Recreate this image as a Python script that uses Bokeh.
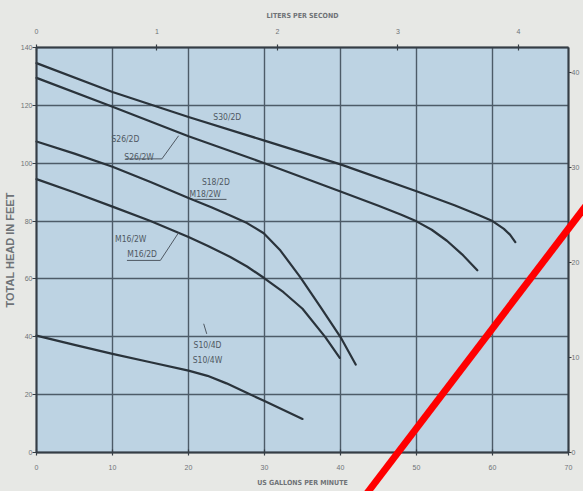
from bokeh.plotting import figure
from bokeh.models import LinearAxis, Range1d, FixedTicker, Grid, BoxAnnotation
from bokeh.embed import file_html
from bokeh.resources import INLINE
from bokeh.core.properties import value

# ---------------- data ----------------
GPM_PER_LPS = 15.8503
FT_PER_M = 3.28084
GPM_MAX = 70
FT_MAX = 140

gpm_ticks = [0, 10, 20, 30, 40, 50, 60, 70]
ft_ticks = [0, 20, 40, 60, 80, 100, 120, 140]
lps_ticks = [0, 1, 2, 3, 4]
m_ticks = [0, 10, 20, 30, 40]

s30_gpm = [0, 10, 20, 30, 40, 50, 55, 58, 60, 61.5, 62.3, 63]
s30_ft = [134.6, 124.6, 116.0, 107.8, 99.6, 90.3, 85.5, 82.3, 80.0, 77.3, 75.3, 72.7]

s26_gpm = [0, 10, 20, 30, 40, 45, 48, 50, 52, 54, 56, 58]
s26_ft = [129.5, 119.5, 109.3, 100.0, 90.2, 85.3, 82.2, 79.9, 77.0, 73.2, 68.5, 63.0]

s18_gpm = [0, 5, 10, 15, 20, 23, 25.5, 27.7, 29.9, 32.1, 34.7, 37.4, 40, 42]
s18_ft = [107.5, 103.3, 98.8, 93.5, 88.0, 84.8, 81.9, 79.3, 75.8, 69.8, 60.6, 50.2, 39.9, 30.4]

m16_gpm = [0, 5, 10, 15, 20, 22.5, 25.5, 27.7, 29.9, 32.5, 35, 38, 39.9]
m16_ft = [94.5, 89.9, 85.0, 80.0, 74.5, 71.5, 67.6, 64.3, 60.4, 55.4, 49.7, 39.9, 32.7]

s10_gpm = [0, 5, 10, 15, 20, 22.5, 25, 28, 30, 35]
s10_ft = [40.4, 37.2, 34.1, 31.2, 28.3, 26.5, 23.9, 20.2, 17.8, 11.6]

label_text = ["S30/2D", "S26/2D", "S26/2W", "S18/2D", "M18/2W", "M16/2W", "M16/2D", "S10/4D", "S10/4W"]
label_gpm = [25.1, 11.7, 13.5, 23.6, 22.2, 12.4, 13.9, 22.5, 22.5]
label_ft = [115.9, 108.4, 102.1, 93.4, 89.4, 73.9, 68.7, 37.0, 32.0]

leader_gpm = [[11.7, 16.5, 18.7], [20.7, 25.0], [11.9, 16.3, 18.7], [22.0, 22.4]]
leader_ft = [[101.5, 101.5, 109.5], [87.5, 87.5], [66.4, 66.4, 76.0], [44.5, 41.0]]

red_gpm = [43.5, 72.5]
red_ft = [-14.0, 86.0]

# ---------------- layout ----------------
W, H = 583, 491
FX0, FX1, FY0, FY1 = 36, 568, 47, 452   # chart box in canvas pixels
ppx = (FX1 - FX0) / GPM_MAX
ppy = (FY1 - FY0) / FT_MAX
x_lo, x_hi = -FX0 / ppx, GPM_MAX + (W - FX1) / ppx
y_lo, y_hi = -(H - FY1) / ppy, FT_MAX + FY0 / ppy

# ---------------- style ----------------
BG = "#e7e8e5"
FRAME = "#bdd3e3"
DARK = "#353d45"
GRID = "#4d5b68"
CURVE = "#2a333b"
TXT = "#6f7377"
LBL = "#4f5862"
COND = "DejaVu Sans Condensed"
SANS = "Liberation Sans"

p = figure(width=W, height=H, output_backend="svg", toolbar_location=None,
           x_range=Range1d(x_lo, x_hi), y_range=Range1d(y_lo, y_hi),
           x_axis_location=None, y_axis_location=None,
           min_border=0, min_border_left=0, min_border_right=0,
           min_border_top=0, min_border_bottom=0,
           background_fill_color=BG, border_fill_color=BG, outline_line_color=None)
p.xgrid.visible = False
p.ygrid.visible = False
p.extra_x_ranges = {"lps": Range1d(x_lo / GPM_PER_LPS, x_hi / GPM_PER_LPS)}
p.extra_y_ranges = {"m": Range1d(y_lo / FT_PER_M, y_hi / FT_PER_M)}

# chart area fill
p.add_layout(BoxAnnotation(left=0, right=GPM_MAX, bottom=0, top=FT_MAX,
                           fill_color=FRAME, fill_alpha=1.0, line_color=None, level="image"))

# grid lines limited to the chart area
try:
    xg = Grid(dimension=0, ticker=FixedTicker(ticks=gpm_ticks), cross_bounds=(0, FT_MAX))
    yg = Grid(dimension=1, ticker=FixedTicker(ticks=ft_ticks), cross_bounds=(0, GPM_MAX))
    for g in (xg, yg):
        g.grid_line_color = GRID
        g.grid_line_width = 1.4
        g.grid_line_alpha = 1.0
        p.add_layout(g)
except Exception:
    p.segment(x0=gpm_ticks, y0=[0] * len(gpm_ticks), x1=gpm_ticks, y1=[FT_MAX] * len(gpm_ticks),
              line_color=GRID, line_width=1.4, level="underlay")
    p.segment(x0=[0] * len(ft_ticks), y0=ft_ticks, x1=[GPM_MAX] * len(ft_ticks), y1=ft_ticks,
              line_color=GRID, line_width=1.4, level="underlay")


def style_axis(ax):
    ax.axis_line_color = DARK
    ax.axis_line_width = 2
    ax.major_tick_line_color = DARK
    ax.major_tick_line_width = 1.2
    ax.minor_tick_line_color = None
    ax.major_label_text_font = SANS
    ax.major_label_text_font_size = "7px"
    ax.major_label_text_color = TXT
    ax.axis_label_text_font = COND
    ax.axis_label_text_font_style = "bold"
    ax.axis_label_text_font_size = "7px"
    ax.axis_label_text_color = TXT


bottom = LinearAxis(ticker=FixedTicker(ticks=gpm_ticks), fixed_location=0,
                    bounds=(0, GPM_MAX), axis_label="US GALLONS PER MINUTE")
style_axis(bottom)
bottom.major_tick_in = 3
bottom.major_tick_out = 3
bottom.major_label_standoff = 9
bottom.axis_label_standoff = 6
p.add_layout(bottom, "below")

left = LinearAxis(ticker=FixedTicker(ticks=ft_ticks), fixed_location=0,
                  bounds=(0, FT_MAX), axis_label="TOTAL HEAD IN FEET")
style_axis(left)
left.axis_label_text_font = SANS
left.axis_label_text_font_size = "11px"
left.major_tick_in = 0
left.major_tick_out = 4
left.major_label_standoff = 0
left.axis_label_standoff = 2
p.add_layout(left, "left")

top = LinearAxis(x_range_name="lps", ticker=FixedTicker(ticks=lps_ticks), fixed_location=FT_MAX,
                 bounds=(0, GPM_MAX / GPM_PER_LPS), axis_label="LITERS PER SECOND")
style_axis(top)
top.major_tick_in = 3
top.major_tick_out = 3
top.major_label_standoff = 11
top.axis_label_standoff = 6
p.add_layout(top, "above")

right = LinearAxis(y_range_name="m", ticker=FixedTicker(ticks=m_ticks), fixed_location=GPM_MAX,
                   bounds=(0, FT_MAX / FT_PER_M))
style_axis(right)
right.major_tick_in = 0
right.major_tick_out = 3
right.major_label_standoff = 0
p.add_layout(right, "right")

for xs, ys in ((s30_gpm, s30_ft), (s26_gpm, s26_ft), (s18_gpm, s18_ft),
               (m16_gpm, m16_ft), (s10_gpm, s10_ft)):
    p.line(xs, ys, line_color=CURVE, line_width=2.2, line_join="round", line_cap="round")

p.multi_line(leader_gpm, leader_ft, line_color=LBL, line_width=1)

p.text(label_gpm, label_ft, text=label_text, text_font=value(COND),
       text_font_size="8.5px", text_color=LBL, text_align="center", text_baseline="middle")

p.line(red_gpm, red_ft, line_color="#ff0000", line_width=7, level="overlay")

html = file_html(p, INLINE)
html = html.replace("</head>", "<style>html,body{background:%s;margin:0;}</style></head>" % BG, 1)
open("out.html", "w").write(html)
